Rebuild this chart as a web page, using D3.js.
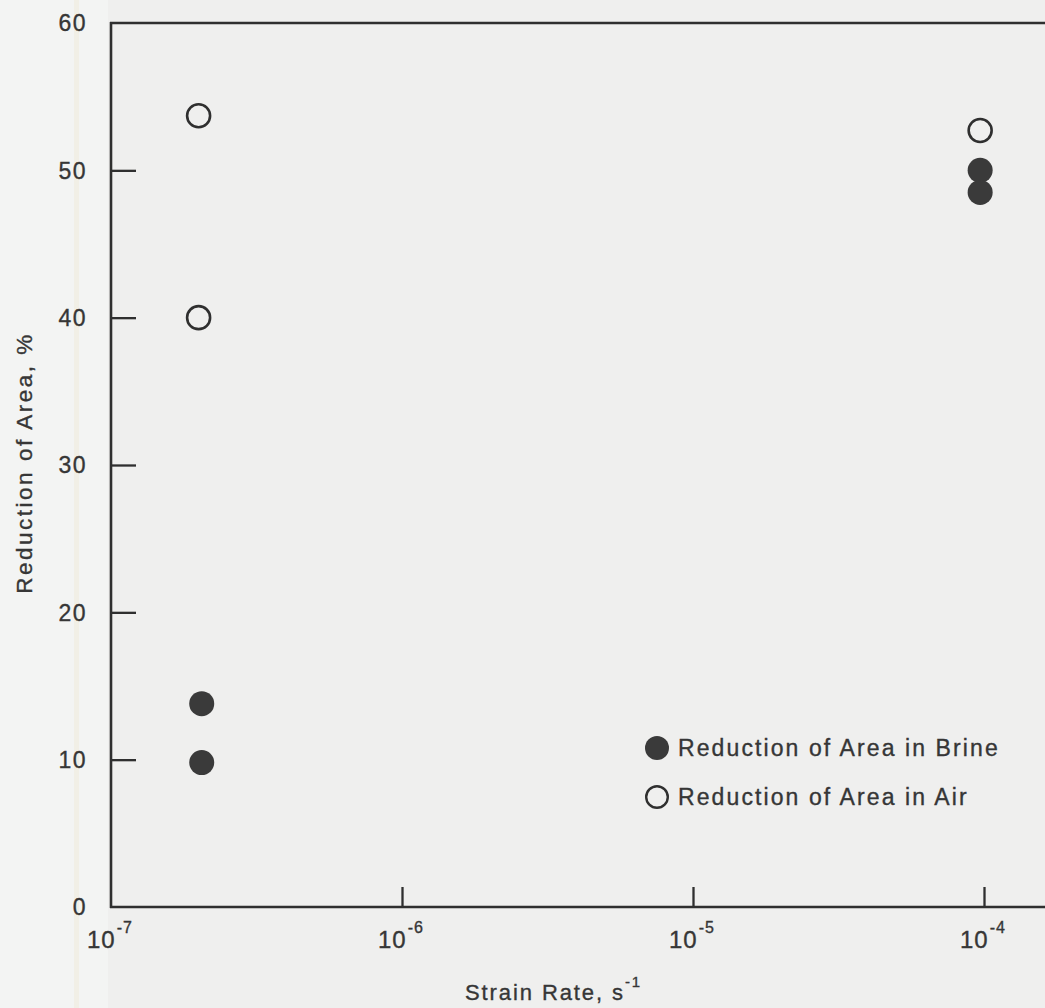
<!DOCTYPE html>
<html>
<head>
<meta charset="utf-8">
<script src="https://cdn.jsdelivr.net/npm/d3@7"></script>
<style>
  html, body { margin: 0; padding: 0; background: #efefee; }
  svg { display: block; }
  text { font-family: "Liberation Sans", Arial, Helvetica, sans-serif; fill: #363636; stroke: #363636; stroke-width: 0.35px; }
</style>
</head>
<body>
<svg id="chart" width="1045" height="1008"></svg>
<script>
// Strain rate (s^-1) and reduction of area (%) for each test
const brineRate = [2.05e-7, 2.05e-7, 9.7e-5, 9.7e-5];
const brineRA   = [13.8, 9.8, 50.0, 48.5];
const airRate   = [2.0e-7, 2.0e-7, 9.7e-5];
const airRA     = [53.7, 40.0, 52.7];

const xTickExponents = [-7, -6, -5, -4];
const yTickValues = [0, 10, 20, 30, 40, 50, 60];
const legendLabels = ["Reduction of Area in Brine", "Reduction of Area in Air"];

const svg = d3.select("#chart");
const W = 1045, H = 1008;

// paper background with the faint binding strip on the left
svg.append("rect").attr("width", W).attr("height", H).attr("fill", "#efefee");
svg.append("rect").attr("x", 0).attr("y", 0).attr("width", 108).attr("height", H).attr("fill", "#f3f4f3");
svg.append("rect").attr("x", 74).attr("y", 0).attr("width", 5).attr("height", H).attr("fill", "#f1efe6");

// one decade spans 291 px, starting at 1e-7 on the left axis
const x = d3.scaleLog().domain([1e-7, Math.pow(10, -7 + (W - 111) / 291)]).range([111, W]);
const y = d3.scaleLinear().domain([0, 60]).range([907, 23]);

const ink = "#2f2f2f";

// frame: left and bottom axes plus top border
const g = svg.append("g");
g.append("line").attr("x1", x(1e-7)).attr("x2", x(1e-7)).attr("y1", y(60) - 1).attr("y2", y(0) + 1)
  .attr("stroke", ink).attr("stroke-width", 2.6);
g.append("line").attr("x1", x(1e-7) - 1).attr("x2", W).attr("y1", y(0)).attr("y2", y(0))
  .attr("stroke", ink).attr("stroke-width", 2.6);
g.append("line").attr("x1", x(1e-7) - 1).attr("x2", W).attr("y1", y(60)).attr("y2", y(60))
  .attr("stroke", ink).attr("stroke-width", 2.6);

// y axis: inward ticks, labels on the left
const yAxis = d3.axisRight(y).tickValues(yTickValues.filter(v => v > 0 && v < 60)).tickSize(25).tickFormat("");
const yg = svg.append("g").attr("transform", `translate(${x(1e-7)},0)`).call(yAxis);
yg.select(".domain").remove();
yg.selectAll(".tick line").attr("stroke", ink).attr("stroke-width", 2.3);

svg.append("g").selectAll("text").data(yTickValues).join("text")
  .attr("x", 87).attr("y", d => y(d)).attr("dy", "0.36em")
  .attr("text-anchor", "end").attr("font-size", 23).attr("letter-spacing", 1.5).text(d => d);

// x axis: inward ticks (upward), power-of-ten labels
const xTicks = xTickExponents.map(e => Math.pow(10, e));
const xAxis = d3.axisTop(x).tickValues(xTicks.slice(1)).tickSize(20).tickFormat("");
const xg = svg.append("g").attr("transform", `translate(0,${y(0)})`).call(xAxis);
xg.select(".domain").remove();
xg.selectAll(".tick line").attr("stroke", ink).attr("stroke-width", 2.3);

const xl = svg.append("g").selectAll("text").data(xTickExponents).join("text")
  .attr("x", e => x(Math.pow(10, e)) - 24).attr("y", 948)
  .attr("font-size", 24).attr("letter-spacing", 1);
xl.append("tspan").text("10");
xl.append("tspan").attr("font-size", 16).attr("dy", -15).attr("dx", 1).text(e => e);

// axis titles
svg.append("text").attr("transform", "translate(32,463) rotate(-90)")
  .attr("text-anchor", "middle").attr("font-size", 22.5).attr("letter-spacing", 2.5)
  .text("Reduction of Area, %");
const xt = svg.append("text").attr("x", 465).attr("y", 1000).attr("font-size", 22).attr("letter-spacing", 1.9);
xt.append("tspan").text("Strain Rate, s");
xt.append("tspan").attr("font-size", 15).attr("dy", -13).text("-1");

// data points
const R = 11.5;
svg.append("g").selectAll("circle").data(d3.zip(airRate, airRA)).join("circle")
  .attr("cx", d => x(d[0])).attr("cy", d => y(d[1])).attr("r", R)
  .attr("fill", "none").attr("stroke", ink).attr("stroke-width", 2.6);
svg.append("g").selectAll("circle").data(d3.zip(brineRate, brineRA)).join("circle")
  .attr("cx", d => x(d[0])).attr("cy", d => y(d[1])).attr("r", R + 1)
  .attr("fill", "#3a3a3a");

// legend
const lg = svg.append("g");
lg.append("circle").attr("cx", 657).attr("cy", 748).attr("r", 12).attr("fill", "#3a3a3a");
lg.append("circle").attr("cx", 657).attr("cy", 797).attr("r", 10.8).attr("fill", "none")
  .attr("stroke", ink).attr("stroke-width", 2.4);
lg.selectAll("text").data(legendLabels).join("text")
  .attr("x", 678).attr("y", (d, i) => 756 + i * 49)
  .attr("font-size", 23).attr("letter-spacing", 2.1).text(d => d);
</script>
</body>
</html>
